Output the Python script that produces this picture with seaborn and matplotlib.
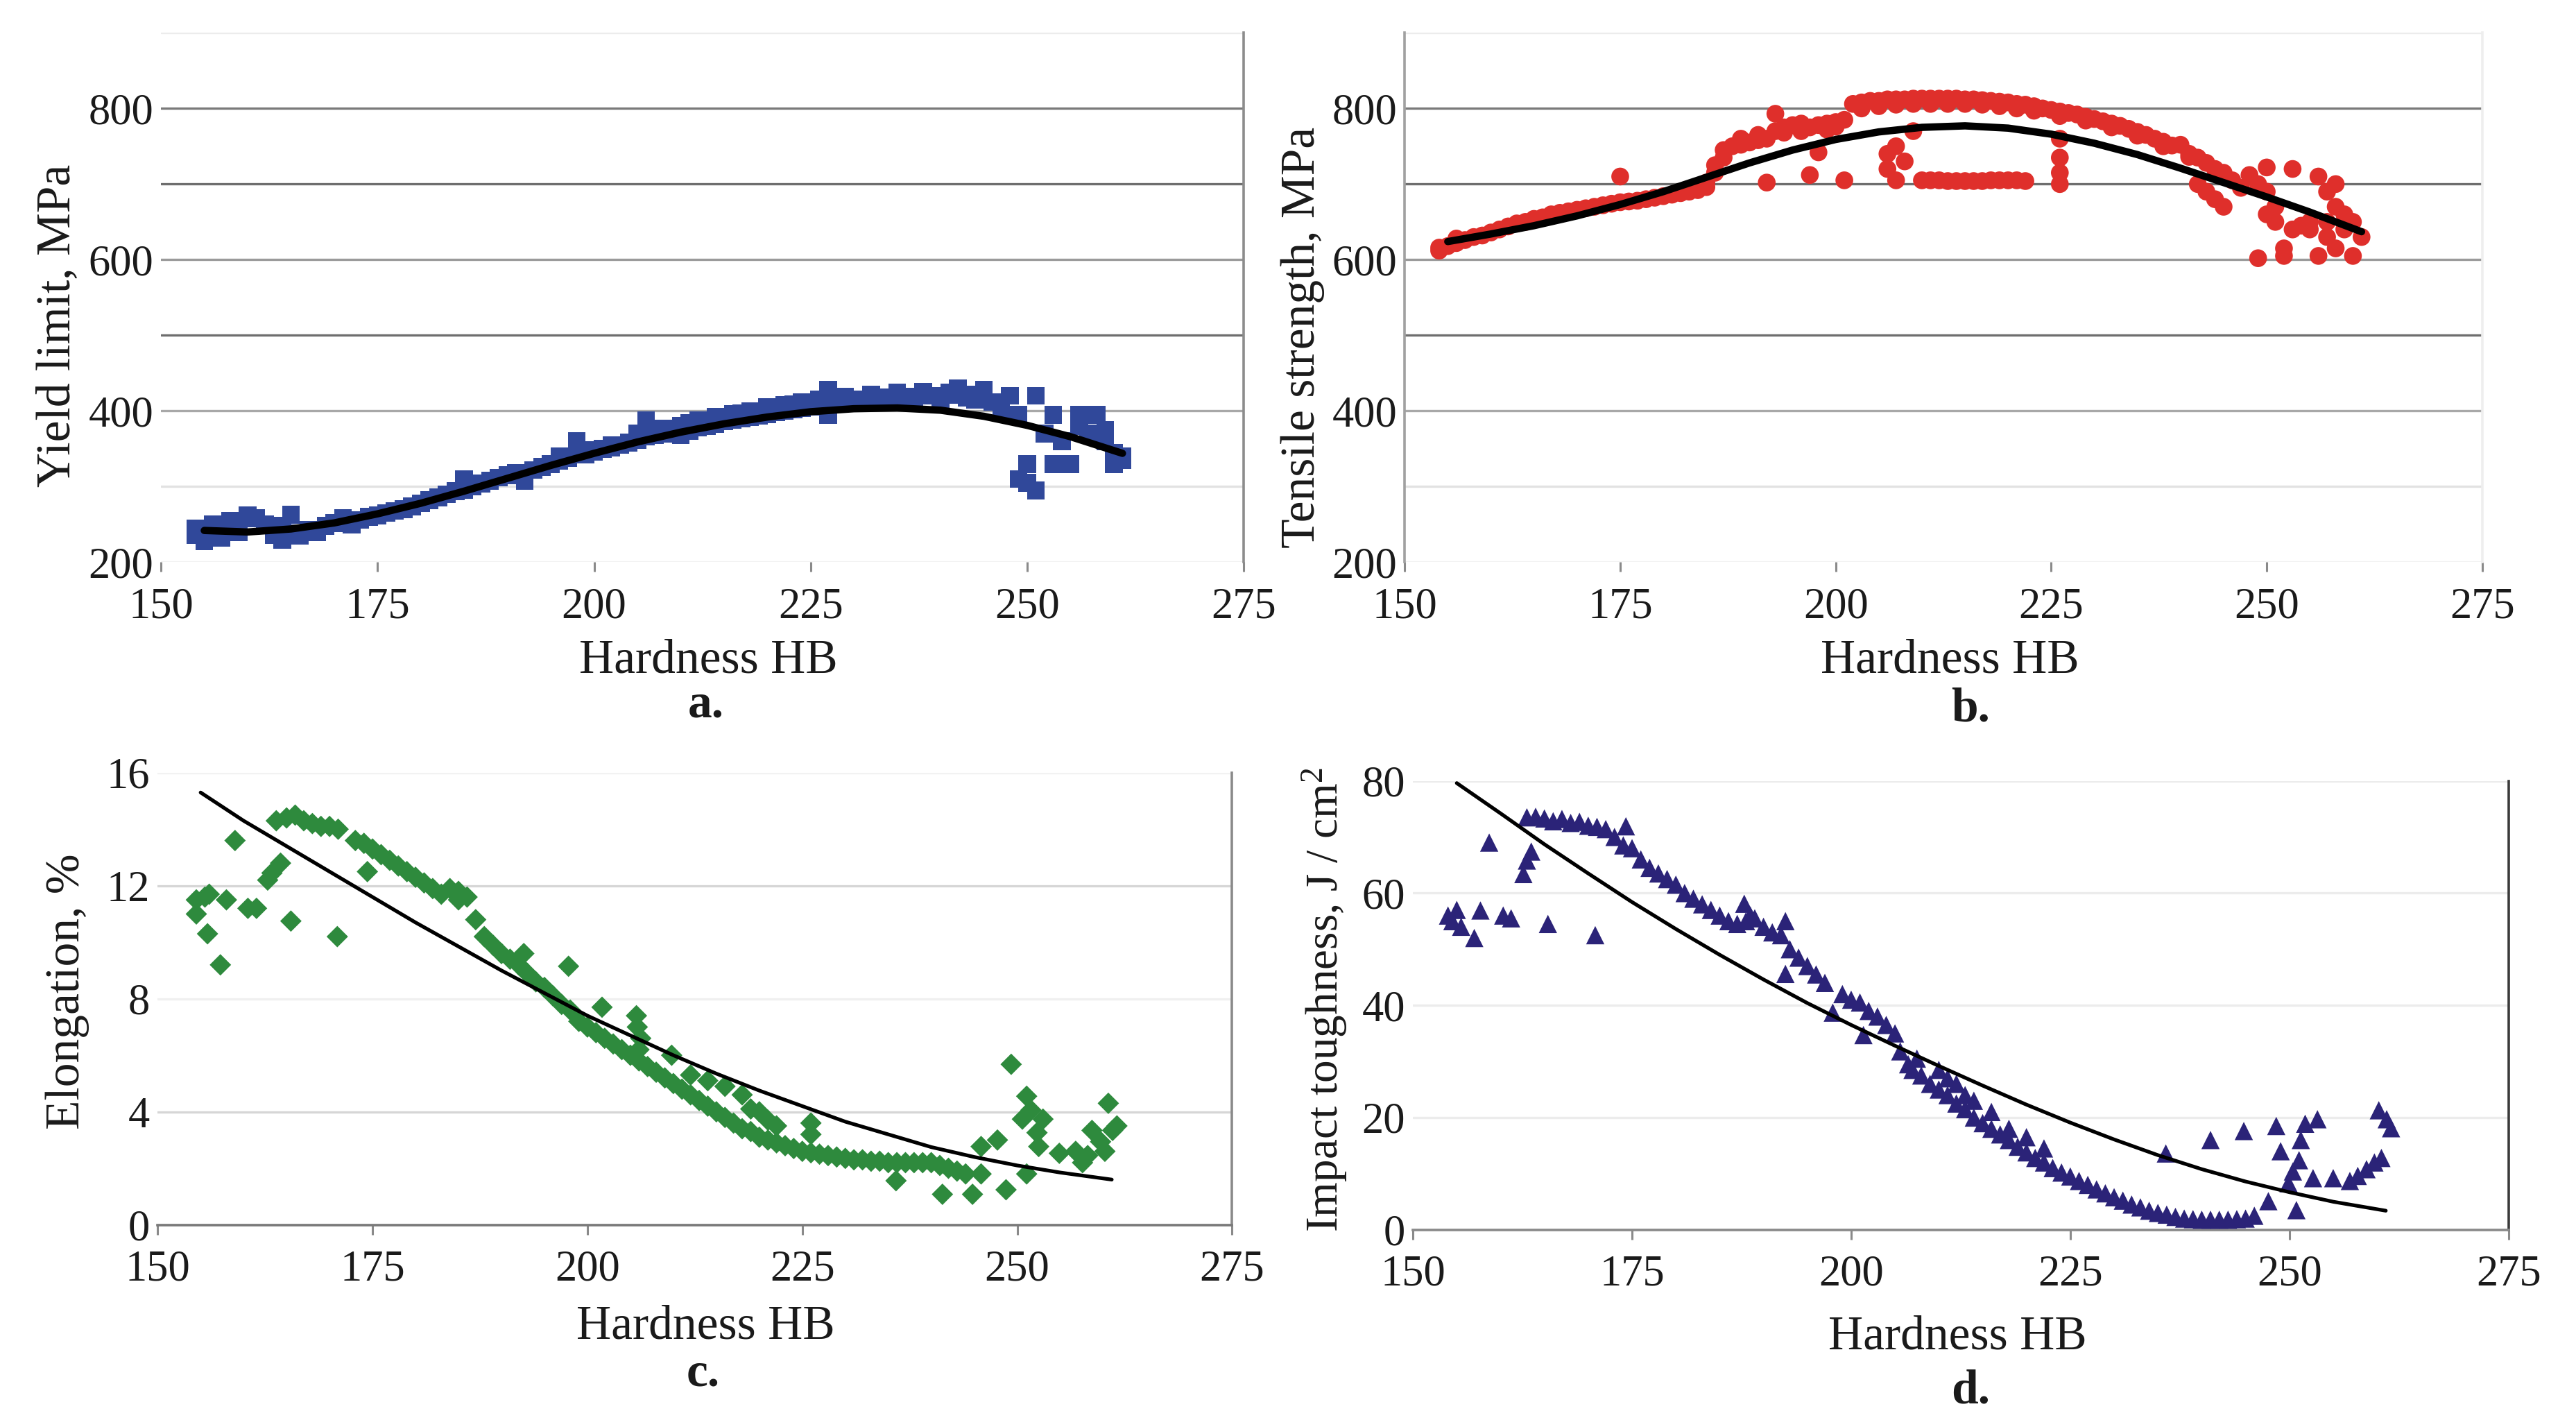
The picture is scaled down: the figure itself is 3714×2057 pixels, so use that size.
import matplotlib
matplotlib.use("Agg")
import matplotlib.pyplot as plt
import numpy as np
import pandas as pd
import seaborn as sns

# ---------------- data ----------------
hb_ticks = [150, 175, 200, 225, 250, 275]

# (a) yield limit, MPa
hb_a = [154, 154, 155, 155, 156, 157, 157, 158, 159, 160,
        161, 162, 163, 164, 164, 165, 165, 166, 167, 168,
        169, 170, 171, 172, 173, 174, 175, 176, 177, 178,
        179, 180, 181, 182, 183, 184, 185, 185, 186, 187,
        188, 189, 190, 191, 192, 193, 194, 195, 196, 197,
        198, 199, 200, 201, 202, 203, 204, 205, 206, 206,
        207, 208, 209, 210, 210, 211, 212, 212, 213, 214,
        214, 215, 216, 216, 217, 218, 218, 219, 220, 220,
        221, 222, 222, 223, 224, 224, 225, 226, 226, 227,
        227, 228, 229, 230, 231, 232, 233, 234, 235, 236,
        237, 238, 239, 240, 241, 242, 243, 244, 245, 246,
        247, 248, 249, 249, 250, 250, 251, 251, 252, 253,
        253, 254, 255, 256, 256, 257, 258, 259, 259, 260,
        260, 261, 261, 205, 208, 211, 214, 217, 220, 223,
        226, 229, 232, 235, 238, 241, 244, 236, 240, 196,
        199, 202]
yield_a = [236, 245, 240, 228, 250, 232, 244, 255, 240, 262,
           258, 250, 236, 248, 230, 263, 238, 235, 243, 240,
           248, 252, 258, 250, 256, 260, 262, 265, 268, 270,
           274, 278, 282, 286, 290, 294, 310, 296, 300, 304,
           308, 312, 315, 318, 308, 322, 326, 330, 334, 338,
           360, 342, 346, 350, 352, 355, 358, 362, 388, 366,
           368, 370, 372, 368, 380, 374, 378, 388, 380, 383,
           392, 386, 388, 396, 390, 392, 400, 394, 396, 405,
           398, 400, 408, 402, 404, 412, 406, 408, 415, 428,
           395, 410, 412, 414, 415, 416, 417, 418, 418, 419,
           419, 420, 420, 420, 421, 430, 418, 415, 428, 412,
           400, 420, 310, 395, 330, 305, 295, 420, 370, 330,
           395, 360, 330, 395, 380, 370, 395, 375, 360, 345,
           330, 340, 335, 370, 377, 384, 391, 397, 403, 409,
           414, 419, 422, 424, 425, 424, 422, 412, 414, 340,
           348, 355]

# (b) tensile strength, MPa
hb_b = [154, 154, 155, 156, 156, 157, 158, 159, 160, 161,
        162, 163, 164, 165, 166, 167, 168, 169, 170, 171,
        172, 173, 174, 175, 175, 176, 177, 178, 179, 180,
        181, 182, 183, 184, 185, 185, 186, 186, 187, 187,
        188, 189, 190, 191, 192, 192, 193, 193, 194, 195,
        196, 196, 197, 197, 198, 198, 199, 200, 200, 201,
        201, 202, 203, 204, 205, 206, 206, 206, 207, 207,
        207, 208, 208, 209, 209, 210, 210, 211, 211, 212,
        212, 213, 213, 214, 214, 215, 215, 216, 216, 217,
        217, 218, 218, 219, 219, 220, 220, 221, 221, 222,
        222, 223, 224, 225, 226, 226, 226, 226, 226, 227,
        228, 229, 230, 231, 232, 233, 234, 235, 236, 237,
        238, 239, 240, 241, 242, 242, 243, 243, 244, 244,
        245, 245, 246, 247, 248, 249, 249, 250, 250, 250,
        251, 251, 252, 252, 253, 253, 254, 255, 255, 256,
        256, 257, 257, 257, 258, 258, 258, 259, 259, 260,
        260, 261, 203, 205, 207, 209, 211, 213, 215, 217,
        219, 221, 223, 226, 229, 232, 235, 238, 241, 189,
        191, 194, 199]
tensile_b = [612, 616, 618, 622, 628, 626, 630, 632, 636, 640,
             644, 648, 650, 654, 656, 660, 662, 664, 666, 668,
             670, 672, 674, 676, 710, 677, 678, 680, 682, 684,
             686, 688, 690, 692, 696, 702, 715, 725, 735, 745,
             750, 752, 755, 758, 760, 702, 793, 770, 775, 778,
             770, 780, 775, 712, 742, 778, 780, 776, 782, 785,
             705, 806, 808, 810, 810, 812, 740, 720, 812, 750,
             705, 812, 730, 770, 813, 813, 705, 813, 705, 813,
             705, 813, 704, 813, 704, 812, 704, 812, 704, 811,
             704, 810, 705, 809, 705, 808, 705, 806, 705, 805,
             704, 803, 800, 798, 796, 760, 735, 715, 700, 794,
             792, 789, 786, 783, 780, 777, 773, 769, 765, 760,
             756, 751, 752, 740, 735, 700, 728, 690, 720, 680,
             715, 670, 705, 695, 712, 602, 700, 722, 690, 660,
             670, 650, 615, 605, 720, 640, 645, 650, 640, 710,
             605, 690, 650, 630, 700, 615, 670, 660, 640, 650,
             605, 630, 800, 803, 805, 806, 806, 806, 806, 805,
             803, 800, 797, 790, 784, 775, 764, 750, 736, 760,
             765, 768, 772]

# (c) elongation, %
hb_c = [154.5, 154.5, 155.5, 155.8, 156, 157.3, 158, 159, 160.5, 161.5,
        162.8, 163.3, 164.3, 163.8, 165, 166, 167, 168, 169, 170,
        171, 165.5, 170.9, 173, 174, 175, 176, 177, 178, 179,
        180, 181, 182, 183, 184, 185, 185, 186, 174.4, 187,
        188, 189, 190, 191, 192, 193, 194, 195, 196, 197,
        198, 192.6, 197.8, 201.7, 199, 200, 201, 202, 203, 204,
        205, 206, 207, 208, 209, 210, 205.7, 205.8, 206.2, 206,
        209.8, 211, 212, 213, 214, 215, 216, 217, 218, 219,
        220, 221, 222, 223, 224, 225, 226, 227, 228, 229,
        230, 231, 232, 233, 234, 235, 236, 237, 238, 239,
        240, 241, 242, 243, 244, 212, 214, 216, 218, 219,
        220, 221, 222, 226, 226, 235.9, 241.3, 244.8, 245.8, 248.7,
        245.8, 247.7, 249.3, 250.6, 251.1, 251.1, 251.6, 252.3, 252.5, 253,
        254.9, 256.8, 257.6, 258.2, 258.7, 259.7, 260.6, 261.1, 260.2, 261.6]
elong_c = [11.5, 11.0, 11.6, 10.3, 11.7, 9.2, 11.5, 13.6, 11.2, 11.2,
           12.2, 12.45, 12.8, 14.3, 14.4, 14.5, 14.3, 14.2, 14.1, 14.1,
           14.0, 10.75, 10.2, 13.6, 13.5, 13.3, 13.1, 12.9, 12.7, 12.5,
           12.3, 12.1, 11.9, 11.7, 11.9, 11.8, 11.5, 11.6, 12.5, 10.8,
           10.2, 9.9, 9.6, 9.4, 9.2, 8.9, 8.6, 8.4, 8.1, 7.8,
           7.6, 9.6, 9.15, 7.7, 7.2, 7.0, 6.8, 6.6, 6.4, 6.2,
           6.0, 5.8, 5.6, 5.4, 5.2, 5.0, 7.4, 7.0, 6.6, 6.2,
           6.0, 4.8, 4.6, 4.4, 4.2, 4.0, 3.8, 3.6, 3.4, 3.3,
           3.1, 3.0, 2.9, 2.8, 2.7, 2.6, 2.55, 2.5, 2.45, 2.4,
           2.35, 2.3, 2.3, 2.25, 2.25, 2.2, 2.2, 2.2, 2.2, 2.2,
           2.2, 2.1, 2.0, 1.9, 1.8, 5.3, 5.1, 4.9, 4.6, 4.1,
           4.0, 3.7, 3.5, 3.6, 3.2, 1.56, 1.08, 1.08, 1.8, 1.24,
           2.77, 3.0, 5.68, 3.74, 4.55, 1.8, 4.06, 3.26, 2.77, 3.74,
           2.53, 2.6, 2.2, 2.45, 3.34, 2.94, 4.3, 3.34, 2.6, 3.5]

# (d) impact toughness, J/cm2
hb_d = [154, 154.5, 155, 155.5, 157, 157.7, 158.7, 160.3, 161.2, 162.6,
        163, 163.5, 163, 164, 165, 166, 167, 168, 169, 170,
        171, 172, 165.4, 170.8, 173, 174, 175, 174.3, 176, 177,
        178, 179, 180, 181, 182, 183, 184, 185, 186, 187,
        188, 187.8, 188.5, 189, 190, 191, 192, 192.5, 192.5, 193,
        194, 195, 196, 197, 197.9, 199, 200, 201, 202, 203,
        204, 205, 201.4, 205.6, 206.5, 207, 207.5, 208, 209, 210,
        211, 212, 213, 214, 215, 216, 217, 218, 219, 220,
        221, 222, 223, 224, 225, 226, 227, 228, 229, 230,
        231, 232, 233, 234, 235, 236, 237, 238, 239, 240,
        241, 242, 243, 244, 245, 246, 210, 211, 212, 213,
        214, 216, 218, 220, 222, 235.9, 241, 244.8, 247.6, 248.5,
        249, 249.9, 250.4, 250.8, 251.1, 251.3, 251.8, 252.7, 253.2, 255,
        256.9, 257.8, 258.8, 259.7, 260.5, 260.2, 261.1, 261.6]
impact_d = [56, 55, 57, 54, 52, 56.9, 69, 56, 55.5, 63.4,
            65.8, 67.4, 73.5, 73.6, 73.3, 72.8, 73.2, 72.5, 72.7, 72,
            71.8, 71.4, 54.5, 52.5, 70, 68.5, 68, 71.9, 66, 64.5,
            63.5, 62.5, 61.5, 60, 59, 58, 57, 56, 55, 54.5,
            55, 58.1, 56, 55.5, 54, 53, 52.5, 55, 45.6, 50,
            48.5, 47, 45.5, 44, 38.7, 42, 41, 40.5, 39, 38,
            36.5, 35, 34.7, 31.8, 29.5, 28.5, 30.5, 27.5, 26, 25,
            24, 22.5, 21.5, 20, 19, 18, 17, 16, 14.8, 13.8,
            12.8, 12, 11, 10.2, 9.5, 8.7, 8, 7.2, 6.5, 5.8,
            5.2, 4.5, 4, 3.4, 3, 2.7, 2.3, 2.0, 1.9, 1.8,
            1.8, 1.8, 1.8, 1.9, 2.0, 2.5, 28.5, 27, 26, 24,
            23, 21, 18, 16.5, 14.5, 13.6, 16, 17.6, 5.1, 18.5,
            14, 8.3, 10.4, 3.5, 12.4, 16, 18.9, 9.2, 19.7, 9.2,
            8.7, 9.6, 10.8, 12, 12.8, 21.3, 19.7, 18.1]

# trend lines
trend_hb = [155, 160, 165, 170, 175, 180, 185, 190, 195, 200, 205,
            210, 215, 220, 225, 230, 235, 240, 245, 250, 255, 261]
trend_a = [242, 240, 244, 252, 264, 278, 294, 311, 328, 344, 359,
           372, 383, 392, 399, 403, 404, 401, 393, 381, 366, 344]
trend_b = [624, 634, 645, 658, 673, 690, 709, 728, 745, 759, 769,
           775, 777, 774, 766, 754, 739, 721, 702, 683, 663, 637]
trend_c = [15.3, 14.3, 13.4, 12.5, 11.6, 10.7, 9.85, 9.0, 8.2, 7.4, 6.7,
           6.0, 5.35, 4.75, 4.2, 3.65, 3.2, 2.75, 2.4, 2.1, 1.85, 1.6]
trend_d = [79.6, 74.2, 68.7, 63.5, 58.4, 53.6, 49.0, 44.6, 40.4, 36.5, 32.8,
           29.2, 25.7, 22.3, 19.1, 16.1, 13.3, 10.8, 8.6, 6.7, 5.0, 3.4]

# ---------------- styling ----------------
sns.set_theme(style="white")
plt.rcParams["font.family"] = ["Liberation Serif", "DejaVu Serif"]
plt.rcParams["mathtext.fontset"] = "custom"
plt.rcParams["mathtext.rm"] = "Liberation Serif"
plt.rcParams["mathtext.it"] = "Liberation Serif:italic"
plt.rcParams["mathtext.bf"] = "Liberation Serif:bold"

TICK_FS = 22.5
LABEL_FS = 25
TXT = "#1a1a1a"

fig = plt.figure(figsize=(18.57, 10.285), dpi=200)
fig.patch.set_facecolor("white")

ax_a = fig.add_axes([0.0625, 0.606, 0.4203, 0.371])
ax_b = fig.add_axes([0.5453, 0.606, 0.4183, 0.371])
ax_c = fig.add_axes([0.0612, 0.1417, 0.4171, 0.3168])
ax_d = fig.add_axes([0.5485, 0.1382, 0.4253, 0.3146])


def style(ax, ylim, major, minor, grid_major, grid_minor, spines, ylabel,
          ylab_xy, ylab_fs=LABEL_FS):
    ax.set_facecolor("white")
    ax.set_xlim(150, 275)
    ax.set_ylim(*ylim)
    ax.set_xticks(hb_ticks)
    ax.set_xticklabels([str(t) for t in hb_ticks])
    ax.set_yticks(major)
    ax.set_yticklabels([str(t) for t in major])
    ax.set_yticks(minor, minor=True)
    ax.grid(True, which="both", axis="y", linewidth=1.2)
    ax.grid(False, axis="x")
    for t, c in zip(ax.yaxis.get_major_ticks(), grid_major):
        t.gridline.set_color(c)
    for t, c in zip(ax.yaxis.get_minor_ticks(), grid_minor):
        t.gridline.set_color(c)
    for name, sp in ax.spines.items():
        col = spines.get(name)
        if col is None:
            sp.set_visible(False)
        else:
            sp.set_visible(True)
            sp.set_color(col)
            sp.set_linewidth(1.3)
    ax.tick_params(axis="x", which="major", direction="out", length=5,
                   width=1.1, color="#8a8a8a", labelsize=TICK_FS,
                   labelcolor=TXT, pad=8, bottom=True)
    ax.tick_params(axis="y", which="both", length=0, labelsize=TICK_FS,
                   labelcolor=TXT, pad=4, left=False)
    ax.set_ylabel(ylabel, fontsize=ylab_fs, color=TXT)
    ax.yaxis.label.set_va("center")
    ax.yaxis.set_label_coords(*ylab_xy)
    ax.set_xlabel("")
    ax.set_axisbelow(True)


# (a)
sns.scatterplot(x=hb_a, y=yield_a, marker="s", s=85, color="#30489a",
                edgecolor="none", linewidth=0, ax=ax_a, zorder=3)
sns.lineplot(x=trend_hb, y=trend_a, color="black", linewidth=3.8, ax=ax_a,
             zorder=4)
style(ax_a, (200, 900), [200, 400, 600, 800], [300, 500, 700, 900],
      ["#f2f2f2", "#a8a8a8", "#9a9a9a", "#7a7a7a"],
      ["#e2e2e2", "#6e6e6e", "#6e6e6e", "#ececec"],
      {"right": "#8c8c8c"}, "Yield limit, MPa", (-0.0956, 0.447))

# (b)
sns.scatterplot(x=hb_b, y=tensile_b, marker="o", s=85, color="#df2f2b",
                edgecolor="none", linewidth=0, ax=ax_b, zorder=3)
sns.lineplot(x=trend_hb, y=trend_b, color="black", linewidth=3.8, ax=ax_b,
             zorder=4)
style(ax_b, (200, 900), [200, 400, 600, 800], [300, 500, 700, 900],
      ["#f2f2f2", "#a8a8a8", "#9a9a9a", "#7a7a7a"],
      ["#e2e2e2", "#6e6e6e", "#6e6e6e", "#ececec"],
      {"left": "#a0a0a0", "right": "#eeeeee"}, "Tensile strength, MPa",
      (-0.0945, 0.425))

# (c)
sns.scatterplot(x=hb_c, y=elong_c, marker="D", s=62, color="#2e8a3d",
                edgecolor="none", linewidth=0, ax=ax_c, zorder=3)
sns.lineplot(x=trend_hb, y=trend_c, color="black", linewidth=1.9, ax=ax_c,
             zorder=4)
style(ax_c, (0, 16), [0, 4, 8, 12, 16], [],
      ["#7a7a7a", "#d6d6d6", "#f0f0f0", "#d6d6d6", "#f2f2f2"], [],
      {"bottom": "#7a7a7a", "right": "#8a8a8a"}, "Elongation, %",
      (-0.084, 0.516))

# (d)
sns.scatterplot(x=hb_d, y=impact_d, marker="^", s=90, color="#2b2378",
                edgecolor="none", linewidth=0, ax=ax_d, zorder=3)
sns.lineplot(x=trend_hb, y=trend_d, color="black", linewidth=1.9, ax=ax_d,
             zorder=4)
style(ax_d, (0, 80), [0, 20, 40, 60, 80], [],
      ["#8a8a8a", "#ececec", "#ececec", "#ececec", "#ececec"], [],
      {"bottom": "#8a8a8a", "right": "#3a3a3a"},
      "Impact toughness, J / cm$^{2}$", (-0.081, 0.513), ylab_fs=23.5)

# x-axis titles and panel letters
for x, y in [(0.275, 0.537), (0.757, 0.537), (0.274, 0.070), (0.760, 0.063)]:
    fig.text(x, y, "Hardness HB", ha="center", va="center",
             fontsize=LABEL_FS, color=TXT)
for x, y, s in [(0.274, 0.506, "a."), (0.765, 0.503, "b."),
                (0.273, 0.037, "c."), (0.765, 0.025, "d.")]:
    fig.text(x, y, s, ha="center", va="center", fontsize=LABEL_FS,
             fontweight="bold", color=TXT)

fig.savefig("out.png", dpi=200, facecolor="white")
